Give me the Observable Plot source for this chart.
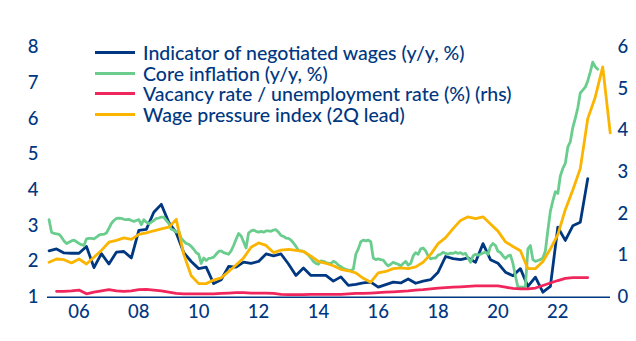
<!DOCTYPE html>
<html><head><meta charset="utf-8">
<script src="https://cdn.jsdelivr.net/npm/d3@7"></script>
<script src="https://cdn.jsdelivr.net/npm/@observablehq/plot@0.6"></script>
<style>
body{margin:0;background:#fff;}
#wrap{position:relative;width:636px;height:341px;font-family:Lato,"Open Sans",sans-serif;font-weight:500;color:#003781;}
#legend{position:absolute;left:95px;top:42px;font-size:19.5px;}
.row{display:flex;align-items:center;height:20.7px;white-space:nowrap;}
.sw{width:40px;height:3px;margin-right:8px;flex:none;}
#chart{position:absolute;left:0;top:0;}
</style></head><body><div id="wrap"><div id="chart"></div><div id="legend"></div></div>
<script>
// ---- data ----
const seriesNames = ["Indicator of negotiated wages (y/y, %)", "Core inflation (y/y, %)", "Vacancy rate / unemployment rate (%) (rhs)", "Wage pressure index (2Q lead)"];
const seriesColors = ["#003781", "#6acd8e", "#f0265c", "#fbb400"];
const xTicks = [2006, 2008, 2010, 2012, 2014, 2016, 2018, 2020, 2022];
const xTickLabels = ["06", "08", "10", "12", "14", "16", "18", "20", "22"];
const leftTicks = [1, 2, 3, 4, 5, 6, 7, 8];
const rightTicks = [0, 1, 2, 3, 4, 5, 6];

// quarterly, 2005Q1 .. 2023Q1 (lhs)
const wagesStart = 2005;
const wages = [
  2.30, 2.35, 2.24, 2.23,
  2.23, 2.42, 1.83, 2.22,
  1.93, 2.26, 2.28, 2.10,
  2.87, 2.90, 3.38, 3.60,
  3.10, 2.80, 2.25, 2.00,
  1.80, 1.84, 1.38, 1.49,
  1.86, 1.84, 1.98, 1.95,
  2.00, 2.21, 2.16, 2.21,
  1.93, 1.61, 1.82, 1.61,
  1.61, 1.61, 1.45, 1.57,
  1.33, 1.36, 1.40, 1.42,
  1.28, 1.35, 1.42, 1.40,
  1.51, 1.39, 1.45, 1.49,
  1.70, 2.14, 2.08, 2.05,
  2.10, 1.98, 2.50, 2.05,
  1.95, 1.70, 1.60, 1.80,
  1.30, 1.56, 1.14, 1.30,
  2.96, 2.59, 3.00, 3.10,
  4.32
];

// monthly, Jan 2005 .. May 2023 (plotted against rhs)
const coreStart = 2005;
const core = [
  1.86, 1.56, 1.53, 1.52, 1.51, 1.44, 1.35, 1.29, 1.32, 1.35, 1.37, 1.33,
  1.29, 1.26, 1.24, 1.40, 1.41, 1.41, 1.40, 1.44, 1.49, 1.51, 1.51, 1.54,
  1.65, 1.77, 1.84, 1.89, 1.90, 1.89, 1.87, 1.86, 1.87, 1.84, 1.82, 1.84,
  1.86, 1.74, 1.86, 1.80, 1.76, 1.80, 1.84, 1.89, 1.90, 1.92, 1.92, 1.84,
  1.77, 1.63, 1.61, 1.56, 1.59, 1.41, 1.35, 1.29, 1.27, 1.22, 1.15, 1.07,
  1.03, 0.81, 0.94, 0.88, 0.93, 0.94, 0.96, 1.03, 1.10, 1.11, 1.07, 1.05,
  1.03, 1.11, 1.24, 1.39, 1.53, 1.47, 1.33, 1.18, 1.54, 1.59, 1.61, 1.58,
  1.56, 1.58, 1.56, 1.59, 1.59, 1.58, 1.61, 1.62, 1.56, 1.48, 1.46, 1.42,
  1.41, 1.37, 1.30, 1.22, 1.12, 1.11, 1.10, 1.06, 1.01, 0.94, 0.86, 0.81,
  0.79, 0.87, 0.86, 0.83, 0.81, 0.81, 0.86, 0.83, 0.77, 0.73, 0.69, 0.67,
  0.65, 0.64, 0.67, 1.03, 1.16, 1.33, 1.37, 1.35, 1.37, 1.33, 0.94, 0.90,
  0.92, 0.90, 0.89, 0.81, 0.75, 0.79, 0.84, 0.81, 0.79, 0.75, 0.81, 0.86,
  0.77, 0.81, 0.99, 1.07, 1.03, 1.16, 1.18, 1.11, 0.99, 0.92, 0.94, 0.94,
  1.01, 1.03, 1.08, 1.05, 1.03, 1.06, 1.05, 1.08, 1.05, 1.07, 1.03, 1.05,
  0.94, 0.84, 0.99, 1.03, 1.01, 1.03, 1.06, 1.08, 1.03, 1.22, 1.29, 1.24,
  1.10, 1.07, 0.99, 0.93, 0.99, 1.01, 0.81, 0.51, 0.24, 0.24, 0.24, 0.26,
  1.16, 1.24, 0.90, 0.86, 0.88, 0.90, 0.94, 1.11, 1.60, 2.06, 2.31, 2.53,
  2.49, 2.91, 3.09, 3.21, 3.60, 3.73, 4.07, 4.29, 4.54, 4.90, 4.97, 5.04,
  5.19, 5.40, 5.64, 5.53, 5.47
];

// quarterly, 2005Q2 .. 2023Q1 (rhs)
const vacancyStart = 2005.25;
const vacancy = [
  0.14, 0.14, 0.15,
  0.17, 0.08, 0.12, 0.15,
  0.18, 0.15, 0.14, 0.15,
  0.18, 0.19, 0.17, 0.15,
  0.12, 0.09, 0.08, 0.08,
  0.08, 0.08, 0.08, 0.09,
  0.10, 0.11, 0.11, 0.10,
  0.10, 0.10, 0.09, 0.07,
  0.06, 0.06, 0.06, 0.07,
  0.07, 0.07, 0.07, 0.07,
  0.08, 0.09, 0.09, 0.10,
  0.11, 0.12, 0.13, 0.14,
  0.15, 0.17, 0.18, 0.20,
  0.22, 0.23, 0.24, 0.25,
  0.26, 0.27, 0.27, 0.27,
  0.27, 0.24, 0.21, 0.20,
  0.20, 0.22, 0.28, 0.34,
  0.40, 0.45, 0.47, 0.47,
  0.47
];

// quarterly, 2005Q1 .. 2023Q4 (lhs)
const pressureStart = 2005;
const pressure = [
  1.98, 2.07, 2.05, 1.96,
  2.07, 1.93, 2.12, 2.31,
  2.54, 2.59, 2.66, 2.62,
  2.76, 2.80, 2.86, 2.91,
  2.96, 3.18, 2.20, 1.60,
  1.38, 1.38, 1.48, 1.54,
  1.72, 1.90, 2.10, 2.40,
  2.52, 2.45, 2.25, 2.32,
  2.34, 2.31, 2.28, 2.15,
  2.00, 1.95, 1.88, 1.78,
  1.74, 1.68, 1.53, 1.42,
  1.68, 1.72, 1.80, 1.82,
  1.80, 1.85, 1.98, 2.20,
  2.50, 2.67, 2.92, 3.15,
  3.25, 3.20, 3.25, 3.05,
  2.85, 2.55, 2.42, 2.30,
  1.80, 1.80, 2.00, 2.35,
  2.75, 3.45, 4.00, 4.60,
  6.00, 6.60, 7.45, 5.60
];

// ---- build ----
const rhsToLhs = r => 1 + r * 7 / 6;
const q = (start, arr, f = v => v) => arr.map((v, i) => ({t: start + i / 4, v: f(v)}));
const m = (start, arr, f = v => v) => arr.map((v, i) => ({t: start + i / 12, v: f(v)}));

const wageRows = q(wagesStart, wages);
const coreRows = m(coreStart, core, rhsToLhs);
const vacRows = q(vacancyStart, vacancy, rhsToLhs);
const presRows = q(pressureStart, pressure);

const blue = "#003781";
const lineOpts = {x: "t", y: "v", strokeWidth: 2.8, strokeLinejoin: "round", strokeLinecap: "round"};

const chart = Plot.plot({
  width: 636, height: 341,
  marginLeft: 47, marginRight: 26, marginTop: 46.7, marginBottom: 44.3,
  style: {fontFamily: "Lato, 'Open Sans', sans-serif", fontSize: "18.5px", fontWeight: 500, color: blue, background: "transparent", overflow: "visible"},
  x: {domain: [2004.948, 2023.76]},
  y: {domain: [1, 8]},
  marks: [
    Plot.axisX({ticks: xTicks, tickFormat: d => xTickLabels[xTicks.indexOf(d)], tickSize: 0, tickPadding: 8, label: null, fill: blue}),
    Plot.axisY({ticks: leftTicks, tickFormat: d => String(d), anchor: "left", tickSize: 0, tickPadding: 9, label: null, fill: blue}),
    Plot.axisY({ticks: rightTicks.map(rhsToLhs), tickFormat: d => String(Math.round((d - 1) * 6 / 7)), anchor: "right", tickSize: 0, tickPadding: 7, label: null, fill: blue}),
    Plot.ruleY([1], {stroke: blue, strokeWidth: 1.5}),
    Plot.line(wageRows, {...lineOpts, stroke: seriesColors[0]}),
    Plot.line(coreRows, {...lineOpts, stroke: seriesColors[1]}),
    Plot.line(vacRows, {...lineOpts, stroke: seriesColors[2]}),
    Plot.line(presRows, {...lineOpts, stroke: seriesColors[3]})
  ]
});
document.getElementById("chart").appendChild(chart);

const legend = document.getElementById("legend");
seriesNames.forEach((name, i) => {
  const row = document.createElement("div");
  row.className = "row";
  const sw = document.createElement("span");
  sw.className = "sw";
  sw.style.background = seriesColors[i];
  const tx = document.createElement("span");
  tx.textContent = name;
  row.appendChild(sw); row.appendChild(tx);
  legend.appendChild(row);
});
</script>
</body></html>
